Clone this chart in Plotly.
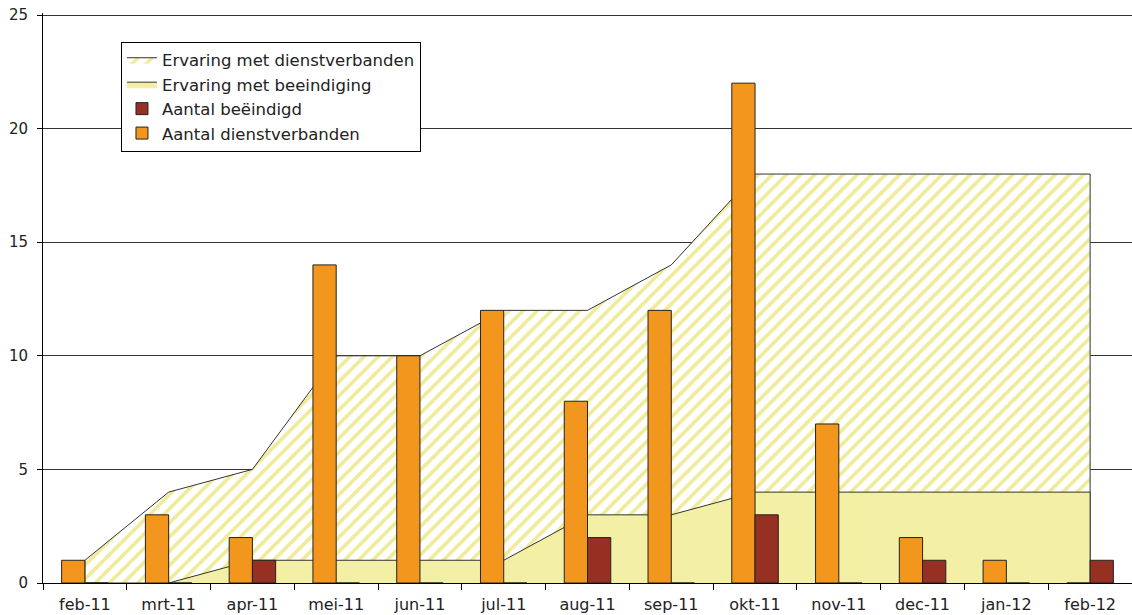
import plotly.graph_objects as go

months = ["feb-11", "mrt-11", "apr-11", "mei-11", "jun-11", "jul-11", "aug-11",
          "sep-11", "okt-11", "nov-11", "dec-11", "jan-12", "feb-12"]
aantal_dienstverbanden = [1, 3, 2, 14, 10, 12, 8, 12, 22, 7, 2, 1, 0]
aantal_beeindigd = [0, 0, 1, 0, 0, 0, 2, 0, 3, 0, 1, 0, 1]
ervaring_dienstverbanden = [1, 4, 5, 10, 10, 12, 12, 14, 18, 18, 18, 18, 18]
ervaring_beeindiging = [0, 0, 1, 1, 1, 1, 3, 3, 4, 4, 4, 4, 4]
y_ticks = [0, 5, 10, 15, 20, 25]

ORANGE = "#F3961E"
DARKRED = "#963023"
LIGHTYELLOW = "#F3F0A6"
HATCH = "#EFEB98"
EDGE = "#222222"
FONT = "DejaVu Sans"

PLOT_H = 570           # plot area height in px (top 2px above the 25 gridline)
PX_PER_UNIT = 568 / 25
Y_TOP = PLOT_H / PX_PER_UNIT


def closed(xs, ys):
    # close the polygon down to the baseline at both ends
    return [xs[0]] + list(xs) + [xs[-1]], [0] + list(ys) + [0]


fig = go.Figure()

hx, hy = closed(months, ervaring_dienstverbanden)
fig.add_trace(go.Scatter(
    x=hx, y=hy, name="Ervaring met dienstverbanden", mode="lines",
    fill="toself", fillcolor="white",
    fillpattern=dict(shape="/", fgcolor=HATCH, bgcolor="white", size=10,
                     solidity=0.35, fillmode="replace"),
    line=dict(color="#333333", width=1), legendrank=1, legendgroup="g1",
    xaxis="x", yaxis="y", hoverinfo="skip",
))

yx, yy = closed(months, ervaring_beeindiging)
fig.add_trace(go.Scatter(
    x=yx, y=yy, name="Ervaring met beeindiging", mode="lines",
    fill="toself", fillcolor=LIGHTYELLOW,
    line=dict(color="#333333", width=1), legendrank=2, legendgroup="g2",
    xaxis="x", yaxis="y", hoverinfo="skip",
))

fig.add_trace(go.Bar(
    x=months, y=aantal_dienstverbanden, name="Aantal dienstverbanden",
    marker=dict(color=ORANGE, line=dict(color=EDGE, width=1)),
    legendrank=4, legendgroup="g4", xaxis="x2", yaxis="y2",
))
fig.add_trace(go.Bar(
    x=months, y=aantal_beeindigd, name="Aantal beëindigd",
    marker=dict(color=DARKRED, line=dict(color=EDGE, width=1)),
    legendrank=3, legendgroup="g3", xaxis="x2", yaxis="y2",
))

xr = [-0.5, len(months) - 0.5]
yr = [0, Y_TOP]

fig.update_layout(
    width=1132, height=615,
    margin=dict(l=43, r=0, t=13, b=32, autoexpand=False),
    paper_bgcolor="white", plot_bgcolor="white",
    font=dict(family=FONT, size=14, color="#222222"),
    barmode="group", bargap=0.445, bargroupgap=0,
    showlegend=True,
    legend=dict(
        x=0.0716, y=0.950, xanchor="left", yanchor="top",
        bgcolor="white", bordercolor="black", borderwidth=1,
        font=dict(family=FONT, size=16.5, color="#222222"),
        traceorder="grouped", tracegroupgap=0, itemwidth=30,
    ),
    xaxis=dict(
        type="category", categoryorder="array", categoryarray=months,
        range=xr, showline=True, linecolor="black", linewidth=1,
        ticks="outside", ticklen=6, tickcolor="black", tickson="boundaries",
        showgrid=False, zeroline=False, fixedrange=True, automargin=False,
        ticklabelstandoff=7,
        tickfont=dict(family=FONT, size=16, color="#222222"),
    ),
    yaxis=dict(
        range=yr, tickvals=y_ticks, showline=True, linecolor="black", linewidth=1,
        ticks="outside", ticklen=5, tickcolor="black", automargin=False,
        ticklabelstandoff=6, ticklabeloverflow="allow",
        showgrid=True, gridcolor="#333333", gridwidth=1, zeroline=False,
        tickfont=dict(family=FONT, size=15, color="#222222"),
    ),
    xaxis2=dict(
        type="category", categoryorder="array", categoryarray=months,
        range=xr, overlaying="x", visible=False, showgrid=False,
    ),
    yaxis2=dict(
        range=yr, overlaying="y", visible=False, showgrid=False, zeroline=False,
    ),
)

# remove the browser's default 8px body margin so the figure fills the window
fig.write_html("out.html", config={"displayModeBar": False},
               post_script="document.body.style.margin='0';")
